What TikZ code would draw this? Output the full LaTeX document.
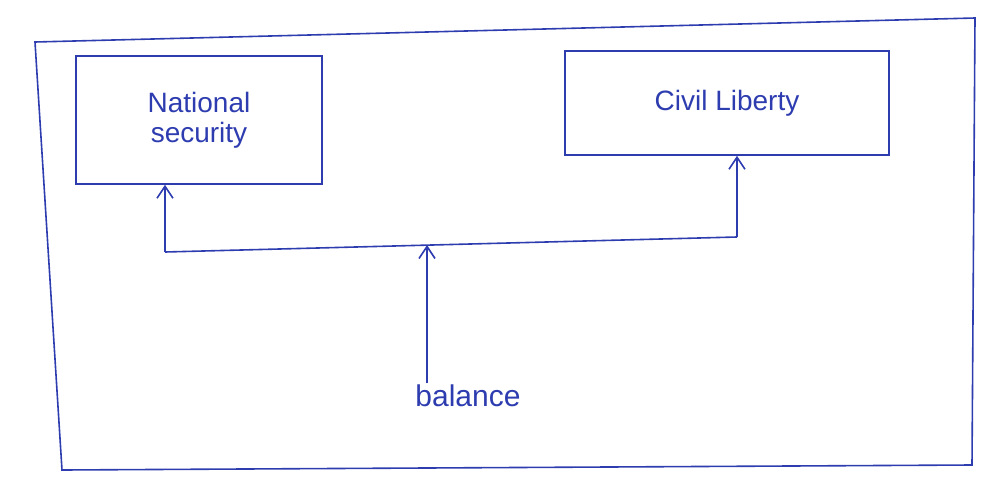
\documentclass[tikz,border=0pt]{standalone}
\usepackage{fontspec}
\setmainfont{Liberation Sans}
\usetikzlibrary{arrows.meta}
\definecolor{ink}{RGB}{45,60,175}
\begin{document}
\begin{tikzpicture}[x=1pt,y=-1pt,
  ink/.style={draw=ink,line width=1.6pt},
  box/.style={ink,rectangle,text=ink,font=\fontsize{28}{30}\selectfont,align=center,inner sep=0pt},
  arr/.style={ink,-{Straight Barb[length=12pt,width=16pt]}}]
\useasboundingbox (0,0) rectangle (983,477);
\draw[ink] (35,42) -- (975,18) -- (972,465) -- (62,470) -- cycle;
\node[box,minimum width=246pt,minimum height=128pt] (ns) at (199,120) {National\\security};
\node[box,minimum width=324pt,minimum height=104pt] (cl) at (727,103) {Civil Liberty};
\node[text=ink,font=\fontsize{30}{32}\selectfont,inner sep=2pt] (bal) at (468,396) {balance};
\coordinate (l) at (165,252);
\coordinate (r) at (737,237);
\coordinate (j) at (427,245);
\draw[arr] (bal.north -| j) -- (j);
\draw[ink] (l) -- (r);
\draw[arr] (l) -- (l |- ns.south);
\draw[arr] (r) -- (r |- cl.south);
\end{tikzpicture}
\end{document}
